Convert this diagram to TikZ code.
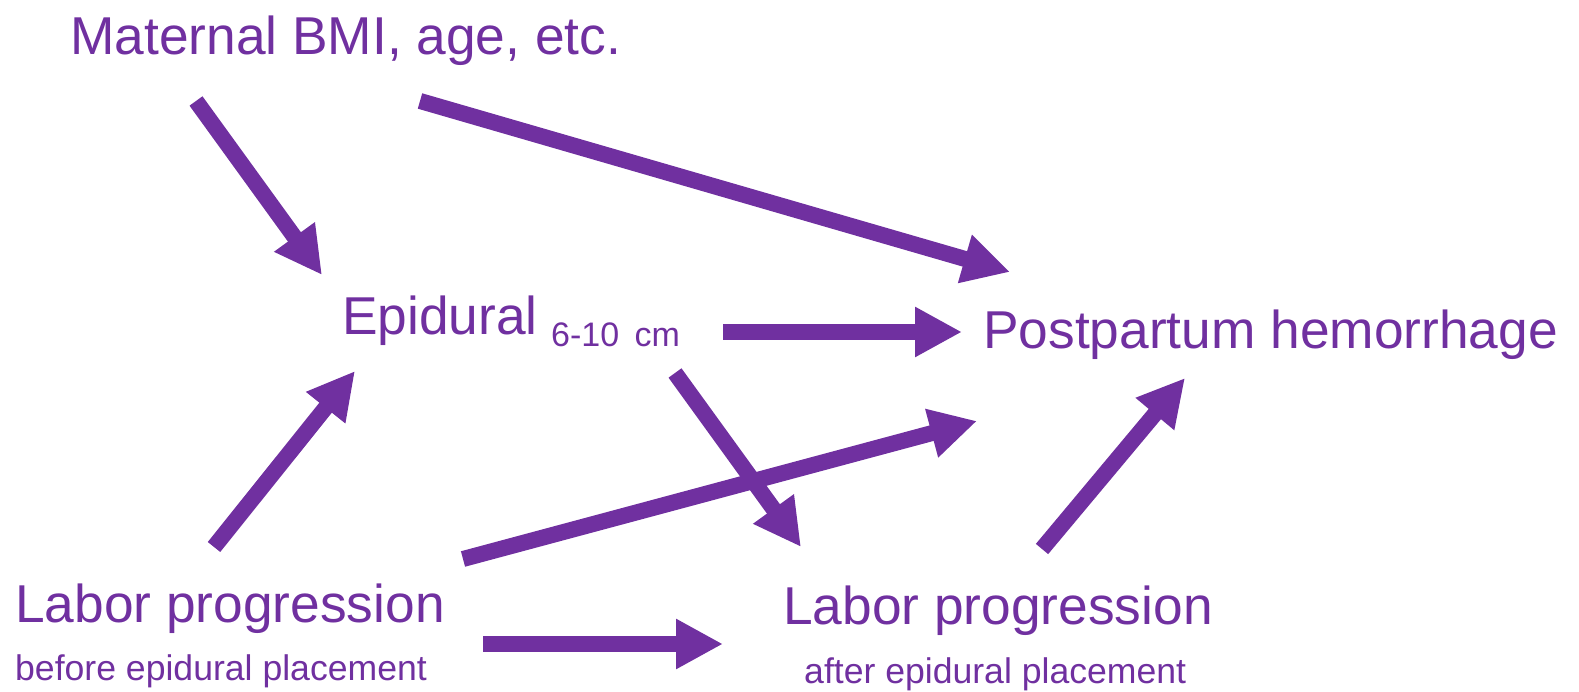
\documentclass[tikz,border=0pt]{standalone}
\usepackage{fontspec}
\setmainfont{Liberation Sans}
\usetikzlibrary{arrows.meta}
\definecolor{plum}{HTML}{7030A0}
\begin{document}
\begin{tikzpicture}[x=1pt,y=1pt,
  lbl/.style={anchor=base west,inner sep=0pt,text=plum,font=\fontsize{53.3}{60}\selectfont},
  sub/.style={anchor=base west,inner sep=0pt,text=plum,font=\fontsize{35.6}{40}\selectfont},
  fat/.style={draw=plum,line width=16pt,-{Triangle[length=47pt,width=47pt]}}]
\useasboundingbox (0,0) rectangle (1579,692);
% labels
\node[lbl] (mat) at (70,637) {Maternal BMI, age, etc.};
\node[lbl] (epi) at (342,357.7) {Epidural};
\node[anchor=base west,inner sep=0pt,text=plum,font=\fontsize{34}{40}\selectfont] (cm) at (551,345.5) {6-10\hspace{0.45em}cm};
\node[lbl] (pph) at (983,343) {Postpartum hemorrhage};
\node[lbl] (lb1) at (15,69.5) {Labor progression};
\node[sub] (lb1s) at (15,11) {before epidural placement};
\node[lbl] (lb2) at (783,67) {Labor progression};
\node[sub] (lb2s) at (804,8) {after epidural placement};
% arrow ends
\coordinate (a1) at (196,591); \coordinate (b1) at (322,417);
\coordinate (a2) at (420,591); \coordinate (b2) at (1010,420);
\coordinate (a3) at (723,360); \coordinate (b3) at (962,360);
\coordinate (a4) at (675,319); \coordinate (b4) at (801,145);
\coordinate (a5) at (214,145); \coordinate (b5) at (355,321);
\coordinate (a6) at (463,133); \coordinate (b6) at (977,271);
\coordinate (a7) at (483,48);  \coordinate (b7) at (723,48);
\coordinate (a8) at (1042,143); \coordinate (b8) at (1185,314);
% connectors
\draw[fat] (a1) -- (b1);
\draw[fat] (a2) -- (b2);
\draw[fat] (a3) -- (b3);
\draw[fat] (a4) -- (b4);
\draw[fat] (a5) -- (b5);
\draw[fat] (a6) -- (b6);
\draw[fat] (a7) -- (b7);
\draw[fat] (a8) -- (b8);
\end{tikzpicture}
\end{document}
